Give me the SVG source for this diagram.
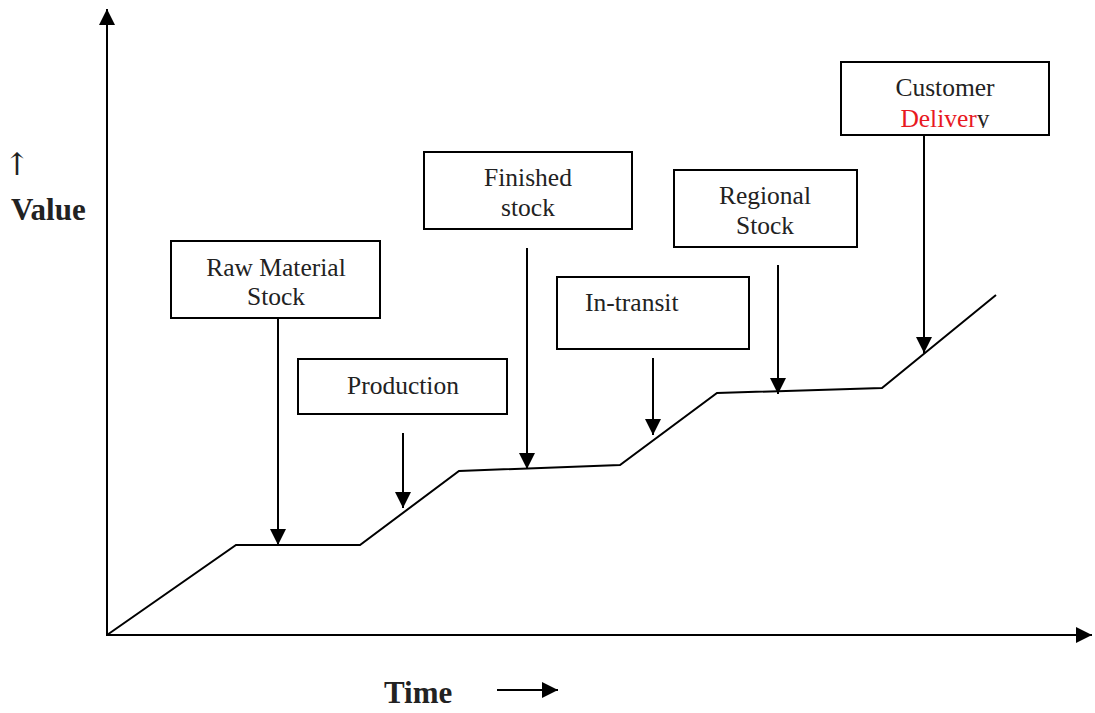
<svg xmlns="http://www.w3.org/2000/svg" width="1095" height="713" viewBox="0 0 1095 713">
  <style>
    .box { fill: #ffffff; stroke: #000000; stroke-width: 2; }
    .lbl { font-family: "Liberation Serif", "Times New Roman", serif; font-size: 25.5px; fill: #222222; text-anchor: middle; }
    .lbl-left { font-family: "Liberation Serif", "Times New Roman", serif; font-size: 25.5px; fill: #222222; text-anchor: start; }
    .axis-lbl { font-family: "Liberation Serif", "Times New Roman", serif; font-size: 31px; font-weight: bold; fill: #222222; }
    .ln { fill: none; stroke: #000000; stroke-width: 2; }
    .arr { fill: none; stroke: #000000; stroke-width: 2; marker-end: url(#head); }
  </style>
  <defs>
    <marker id="head" markerUnits="userSpaceOnUse" markerWidth="17" markerHeight="17" refX="16" refY="8" orient="auto">
      <path d="M0,0 L16,8 L0,16 z" fill="#000000"/>
    </marker>
    <clipPath id="cut-desc">
      <rect x="840" y="60" width="210" height="68"/>
    </clipPath>
  </defs>

  <rect width="1095" height="713" fill="#ffffff"/>

  <!-- axes -->
  <g id="axes">
    <line class="arr" x1="107" y1="636" x2="107" y2="9"/>
    <line class="arr" x1="106" y1="635" x2="1092" y2="635"/>
    <text x="17" y="175" text-anchor="middle" font-family="'DejaVu Serif', serif" font-size="31" fill="#222222">↑</text>
    <text class="axis-lbl" x="11" y="220">Value</text>
    <text class="axis-lbl" x="384" y="703">Time</text>
    <line class="arr" x1="497" y1="690" x2="558" y2="690"/>
  </g>

  <!-- value curve -->
  <g id="value-curve">
    <polyline class="ln" points="107,635 236,545 360,545 459,471 620,465 717,393 882,388 996,295"/>
  </g>

  <!-- stage boxes -->
  <g id="raw-material">
    <rect class="box" x="171" y="241" width="209" height="77"/>
    <text class="lbl" x="276" y="276">Raw Material</text>
    <text class="lbl" x="276" y="305">Stock</text>
  </g>
  <g id="production">
    <rect class="box" x="298" y="359" width="209" height="55"/>
    <text class="lbl" x="403" y="394">Production</text>
  </g>
  <g id="finished-stock">
    <rect class="box" x="424" y="152" width="208" height="77"/>
    <text class="lbl" x="528" y="186">Finished</text>
    <text class="lbl" x="528" y="216">stock</text>
  </g>
  <g id="in-transit">
    <rect class="box" x="557" y="277" width="192" height="72"/>
    <text class="lbl-left" x="585" y="311">In-transit</text>
  </g>
  <g id="regional-stock">
    <rect class="box" x="674" y="170" width="183" height="77"/>
    <text class="lbl" x="765" y="204">Regional</text>
    <text class="lbl" x="765" y="234">Stock</text>
  </g>
  <g id="customer-delivery">
    <rect class="box" x="841" y="62" width="208" height="73"/>
    <text class="lbl" x="945" y="96">Customer</text>
    <text class="lbl" x="945" y="127" clip-path="url(#cut-desc)"><tspan fill="#e8191f">Deliver</tspan>y</text>
  </g>

  <!-- pointers from boxes to the curve -->
  <g id="connectors">
    <line class="arr" x1="278" y1="318" x2="278" y2="545"/>
    <line class="arr" x1="403" y1="433" x2="403" y2="508"/>
    <line class="arr" x1="527" y1="248" x2="527" y2="469"/>
    <line class="arr" x1="653" y1="358" x2="653" y2="435"/>
    <line class="arr" x1="778" y1="265" x2="778" y2="394"/>
    <line class="arr" x1="924" y1="136" x2="924" y2="353"/>
  </g>
</svg>
